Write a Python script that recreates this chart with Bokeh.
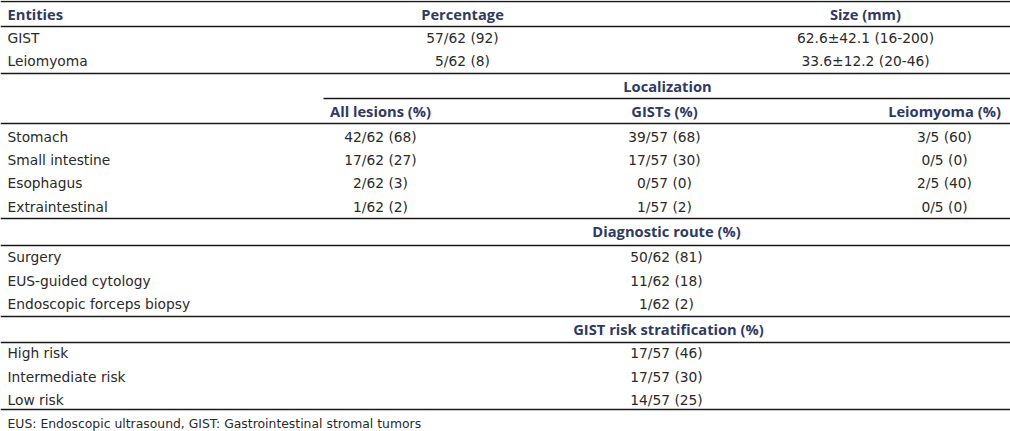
from bokeh.plotting import figure
from bokeh.models import Range1d
from bokeh.core.properties import value
from bokeh.embed import file_html
from bokeh.resources import INLINE

# ---- data ----
entities = ["GIST", "Leiomyoma"]
percentage = ["57/62 (92)", "5/62 (8)"]
size_mm = ["62.6\u00b142.1 (16-200)", "33.6\u00b112.2 (20-46)"]

loc_sites = ["Stomach", "Small intestine", "Esophagus", "Extraintestinal"]
loc_all = ["42/62 (68)", "17/62 (27)", "2/62 (3)", "1/62 (2)"]
loc_gist = ["39/57 (68)", "17/57 (30)", "0/57 (0)", "1/57 (2)"]
loc_leio = ["3/5 (60)", "0/5 (0)", "2/5 (40)", "0/5 (0)"]

routes = ["Surgery", "EUS-guided cytology", "Endoscopic forceps biopsy"]
route_vals = ["50/62 (81)", "11/62 (18)", "1/62 (2)"]

risks = ["High risk", "Intermediate risk", "Low risk"]
risk_vals = ["17/57 (46)", "17/57 (30)", "14/57 (25)"]

headers_top = ["Entities", "Percentage", "Size (mm)"]
loc_title = "Localization"
loc_headers = ["All lesions (%)", "GISTs (%)", "Leiomyoma (%)"]
route_title = "Diagnostic route (%)"
risk_title = "GIST risk stratification (%)"
footnote = "EUS: Endoscopic ultrasound, GIST: Gastrointestinal stromal tumors"

# ---- layout ----
W, H = 1010, 431
p = figure(width=W, height=H, output_backend="svg", toolbar_location=None,
           x_range=Range1d(0, W), y_range=Range1d(H, 0), min_border=0)
p.axis.visible = False
p.grid.visible = False
p.outline_line_color = None
p.background_fill_color = "white"

BODY_FONT = value("DejaVu Sans")
HEAD_FONT = value("Open Sans")
BODY_COLOR = "#2a2a2a"
HEAD_COLOR = "#2f3a63"
BODY_SIZE = "13.8px"
HEAD_SIZE = "14.7px"

LEFT = 7
C_PCT, C_SIZE = 462, 865
C_LOC = 667
C_ALL, C_GIST, C_LEIO = 380, 664, 944
C_MID = 666


def body(xs, ys, texts, align):
    p.text(x=xs, y=ys, text=texts, text_font=BODY_FONT, text_font_size=BODY_SIZE,
           text_color=BODY_COLOR, text_align=align, text_baseline="middle")


def head(xs, ys, texts, align):
    p.text(x=xs, y=ys, text=texts, text_font=HEAD_FONT, text_font_size=HEAD_SIZE,
           text_font_style="bold", text_color=HEAD_COLOR, text_align=align,
           text_baseline="middle")


# header row
head([LEFT], [13], [headers_top[0]], "left")
head([C_PCT, C_SIZE], [13, 13], headers_top[1:], "center")

# entities block
ent_y = [37, 60]
body([LEFT] * len(entities), ent_y, entities, "left")
body([C_PCT] * len(percentage), ent_y, percentage, "center")
body([C_SIZE] * len(size_mm), ent_y, size_mm, "center")

# localization block
head([C_LOC], [85], [loc_title], "center")
head([C_ALL, C_GIST, C_LEIO], [110] * 3, loc_headers, "center")
loc_y = [136, 159, 182, 206]
body([LEFT] * len(loc_sites), loc_y, loc_sites, "left")
body([C_ALL] * len(loc_all), loc_y, loc_all, "center")
body([C_GIST] * len(loc_gist), loc_y, loc_gist, "center")
body([C_LEIO] * len(loc_leio), loc_y, loc_leio, "center")

# diagnostic route block
head([C_MID], [230], [route_title], "center")
route_y = [256, 280, 303]
body([LEFT] * len(routes), route_y, routes, "left")
body([C_MID] * len(route_vals), route_y, route_vals, "center")

# risk block
head([C_MID + 2], [328], [risk_title], "center")
risk_y = [352, 376, 399]
body([LEFT] * len(risks), risk_y, risks, "left")
body([C_MID] * len(risk_vals), risk_y, risk_vals, "center")

# footnote
p.text(x=[LEFT], y=[423], text=[footnote], text_font=BODY_FONT, text_font_size="12.4px",
       text_color=BODY_COLOR, text_align="left", text_baseline="middle")

# rules
full_y = [1, 26, 73, 123, 218, 245, 316, 342, 409]
p.segment(x0=[0] * len(full_y), x1=[W] * len(full_y), y0=full_y, y1=full_y,
          line_color="#1a1a1a", line_width=1.6)
p.segment(x0=[323], x1=[W], y0=[98], y1=[98], line_color="#1a1a1a", line_width=1.6)

open("out.html", "w").write(file_html(p, INLINE))
